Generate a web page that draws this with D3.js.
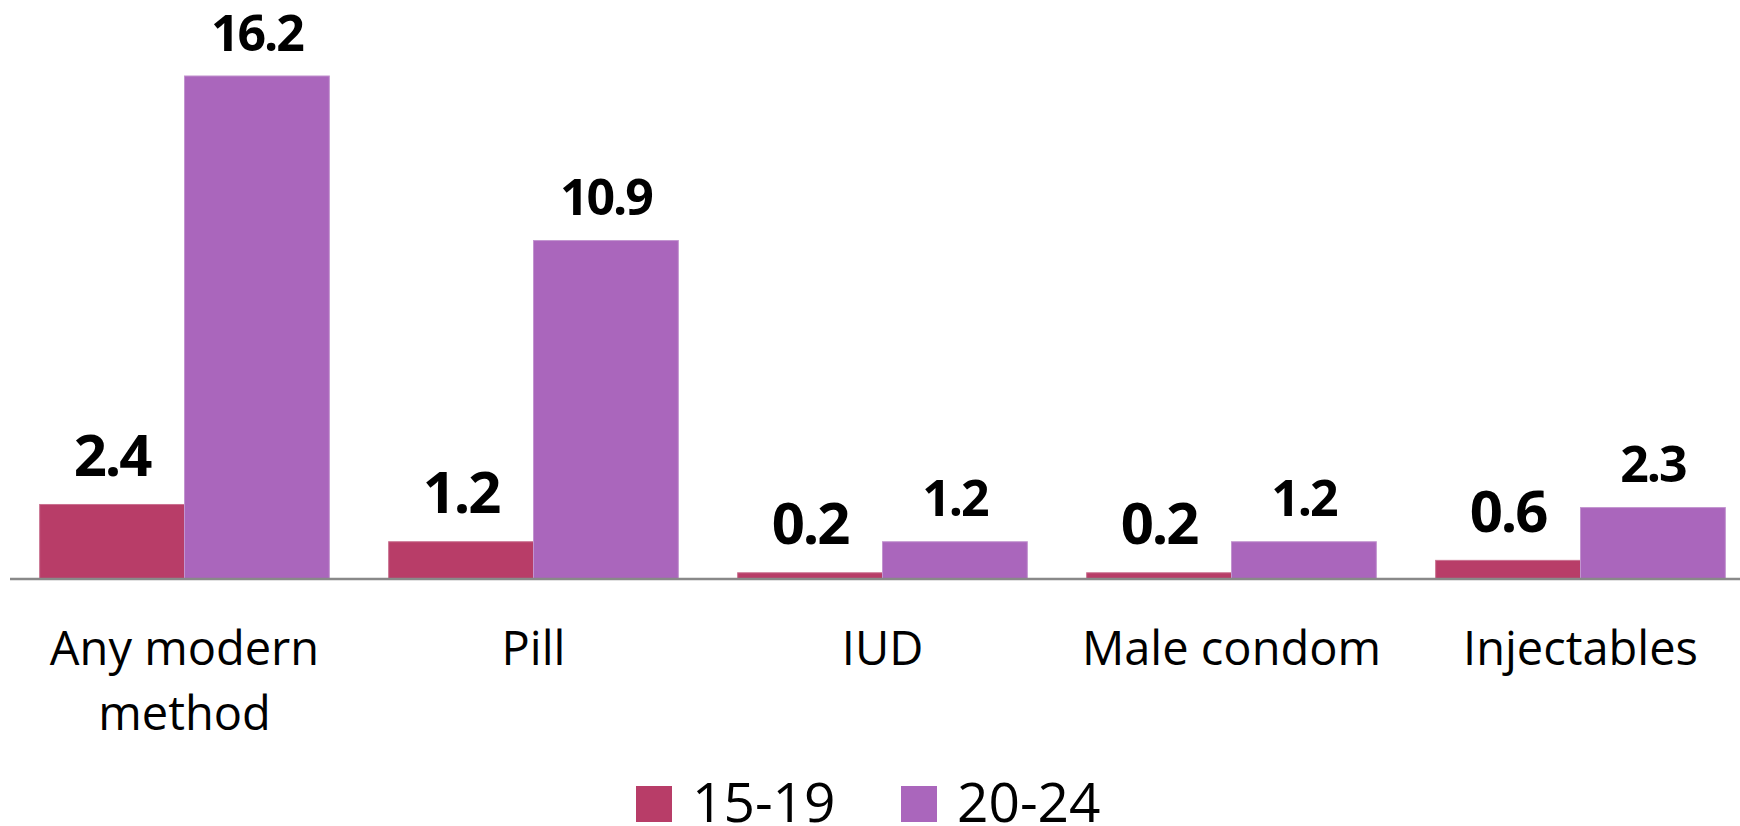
<!DOCTYPE html>
<html>
<head>
<meta charset="utf-8">
<script src="https://cdn.jsdelivr.net/npm/d3@7"></script>
<style>
  body { margin: 0; background: #fff; }
  svg { display: block; font-family: "Open Sans", "Noto Sans", sans-serif; }
</style>
</head>
<body>
<div id="chart"></div>
<script>
const categories = ["Any modern method", "Pill", "IUD", "Male condom", "Injectables"];
const categoryLines = [["Any modern", "method"], ["Pill"], ["IUD"], ["Male condom"], ["Injectables"]];
const seriesNames = ["15-19", "20-24"];
const values15_19 = [2.4, 1.2, 0.2, 0.2, 0.6];
const values20_24 = [16.2, 10.9, 1.2, 1.2, 2.3];

const width = 1740;
const height = 826;
const baseY = 579;

const colors = ["#b83d68", "#aa66bc"];
const strokes = ["#c9708f", "#c294cf"];

const svg = d3.select("#chart")
    .append("svg")
    .attr("width", width)
    .attr("height", height);

// Scales
const x = d3.scaleBand()
    .domain(categories)
    .range([10, 1755])
    .paddingInner(0.17)
    .paddingOuter(0.085);

const xSeries = d3.scaleBand()
    .domain(seriesNames)
    .range([0, x.bandwidth()]);

const y = d3.scaleLinear()
    .domain([0, 18])
    .range([baseY, baseY - 18 * 31.05]);

const rows = categories.map((c, i) => ({
    cat: c,
    vals: [
        { s: seriesNames[0], v: values15_19[i] },
        { s: seriesNames[1], v: values20_24[i] }
    ]
}));

// Bars
const groups = svg.selectAll("g.group")
    .data(rows)
    .join("g")
    .attr("class", "group")
    .attr("transform", d => `translate(${x(d.cat)},0)`);

groups.selectAll("rect")
    .data(d => d.vals)
    .join("rect")
    .attr("x", d => xSeries(d.s))
    .attr("y", d => y(d.v))
    .attr("width", xSeries.bandwidth())
    .attr("height", d => y(0) - y(d.v))
    .attr("fill", (d, i) => colors[i])
    .attr("stroke", (d, i) => strokes[i])
    .attr("stroke-width", 1);

// Value labels
groups.selectAll("text.val")
    .data(d => d.vals)
    .join("text")
    .attr("class", "val")
    .attr("x", d => xSeries(d.s) + xSeries.bandwidth() / 2)
    .attr("y", (d, i) => y(d.v) - (i === 0 ? 28.5 : 25.5))
    .attr("text-anchor", "middle")
    .style("font-weight", "bold")
    .style("font-size", (d, i) => i === 0 ? "58px" : "50px")
    .style("letter-spacing", (d, i) => i === 0 ? "-2px" : "-2px")
    .attr("fill", "#000")
    .text(d => d.v.toFixed(1));

// Axis line
svg.append("line")
    .attr("x1", 10)
    .attr("x2", width)
    .attr("y1", baseY)
    .attr("y2", baseY)
    .attr("stroke", "#898989")
    .attr("stroke-width", 2.5);

// Category labels
categories.forEach((c, i) => {
    const t = svg.append("text")
        .attr("text-anchor", "middle")
        .attr("fill", "#000")
        .style("font-size", "47px");
    categoryLines[i].forEach((line, j) => {
        t.append("tspan")
            .attr("x", x(c) + x.bandwidth() / 2)
            .attr("y", 665 + j * 65)
            .text(line);
    });
});

// Legend
const legendX = [636, 901];
const legend = svg.selectAll("g.legend")
    .data(seriesNames)
    .join("g")
    .attr("class", "legend")
    .attr("transform", (d, i) => `translate(${legendX[i]},786)`);

legend.append("rect")
    .attr("width", 36)
    .attr("height", 36)
    .attr("fill", (d, i) => colors[i]);

legend.append("text")
    .attr("x", 56)
    .attr("y", 36)
    .style("font-size", "55px")
    .attr("fill", "#000")
    .text(d => d);
</script>
</body>
</html>
